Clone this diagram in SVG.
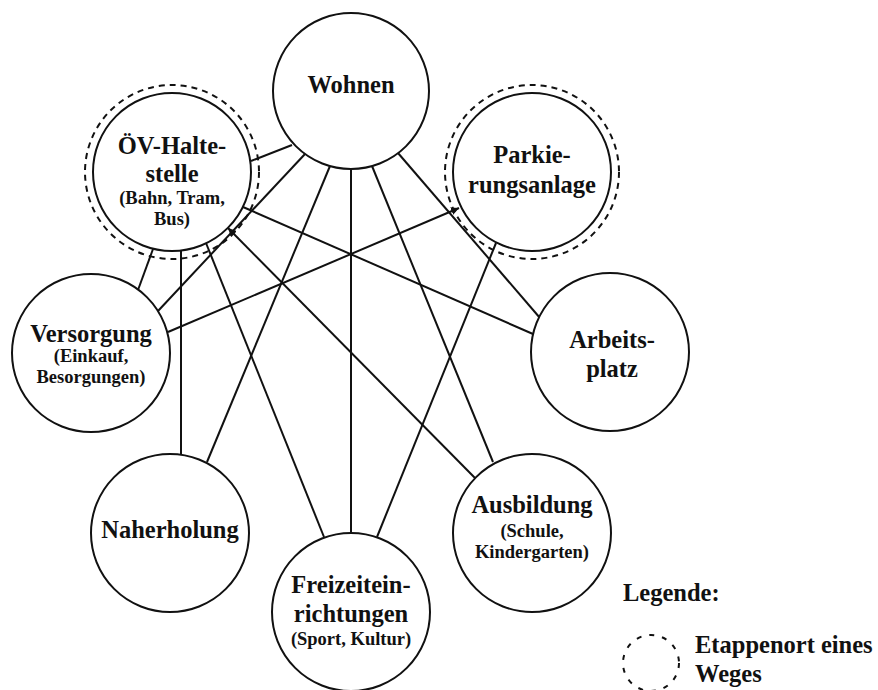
<svg xmlns="http://www.w3.org/2000/svg" width="878" height="690" viewBox="0 0 878 690">
<defs>
<style>
.n{fill:#fff;stroke:#111;stroke-width:2}
.d{fill:none;stroke:#111;stroke-width:2;stroke-dasharray:6 5}
.e line{stroke:#111;stroke-width:2}
text{font-family:"Liberation Serif","Times New Roman",serif;font-weight:bold;fill:#111;text-anchor:middle}
.m{font-size:24.5px}
.s{font-size:18.5px}
.l{text-anchor:start;font-size:24.5px}
</style>
<marker id="a" viewBox="0 0 8 8" refX="8" refY="4" markerWidth="4" markerHeight="4" orient="auto"><path d="M0,0L8,4L0,8z" fill="#111"/></marker>
</defs>
<rect width="878" height="690" fill="#fff"/>
<g id="connectors" class="e">
<line x1="251" y1="161" x2="292" y2="145"/>
<line x1="158" y1="311" x2="305" y2="154"/>
<line x1="207" y1="462" x2="330" y2="166"/>
<line x1="351" y1="169" x2="351" y2="533"/>
<line x1="372" y1="166" x2="493" y2="462"/>
<line x1="398" y1="153" x2="540" y2="318"/>
<line x1="153" y1="249" x2="138" y2="290"/>
<line x1="181" y1="250" x2="181" y2="454"/>
<line x1="206" y1="243" x2="324" y2="537"/>
<line x1="475" y1="478" x2="228" y2="228" marker-end="url(#a)"/>
<line x1="243" y1="207" x2="533" y2="334"/>
<line x1="168" y1="332" x2="459" y2="208" marker-end="url(#a)"/>
<line x1="496" y1="243" x2="377" y2="537"/>
</g>
<g id="wohnen"><circle class="n" cx="351" cy="91" r="78"/><text class="m" x="351" y="93">Wohnen</text></g>
<g id="oev"><circle class="d" cx="172" cy="172" r="87"/><circle class="n" cx="172" cy="172" r="79" style="fill:none"/><text class="m" x="172" y="154">ÖV-Halte-</text><text class="m" x="172" y="182">stelle</text><text class="s" x="172" y="204">(Bahn, Tram,</text><text class="s" x="172" y="225">Bus)</text></g>
<g id="parkierung"><circle class="d" cx="532" cy="172" r="87"/><circle class="n" cx="532" cy="172" r="79" style="fill:none"/><text class="m" x="532" y="163">Parkie-</text><text class="m" x="532" y="193">rungsanlage</text></g>
<g id="versorgung"><circle class="n" cx="91" cy="353" r="79"/><text class="m" x="91" y="342">Versorgung</text><text class="s" x="91" y="362">(Einkauf,</text><text class="s" x="91" y="383">Besorgungen)</text></g>
<g id="arbeitsplatz"><circle class="n" cx="610" cy="352" r="79"/><text class="m" x="612" y="348">Arbeits-</text><text class="m" x="612" y="377">platz</text></g>
<g id="naherholung"><circle class="n" cx="170" cy="533" r="79"/><text class="m" x="170" y="538">Naherholung</text></g>
<g id="freizeit"><circle class="n" cx="351" cy="612" r="79"/><text class="m" x="351" y="593">Freizeitein-</text><text class="m" x="351" y="622">richtungen</text><text class="s" x="351" y="645">(Sport, Kultur)</text></g>
<g id="ausbildung"><circle class="n" cx="532" cy="533" r="79"/><text class="m" x="532" y="513">Ausbildung</text><text class="s" x="532" y="537">(Schule,</text><text class="s" x="532" y="558">Kindergarten)</text></g>
<g id="legend"><text class="l" x="623" y="601">Legende:</text><circle class="d" cx="651" cy="663" r="28" style="stroke-dasharray:5 8"/><text class="l" x="695" y="653">Etappenort eines</text><text class="l" x="695" y="682">Weges</text></g>
</svg>
